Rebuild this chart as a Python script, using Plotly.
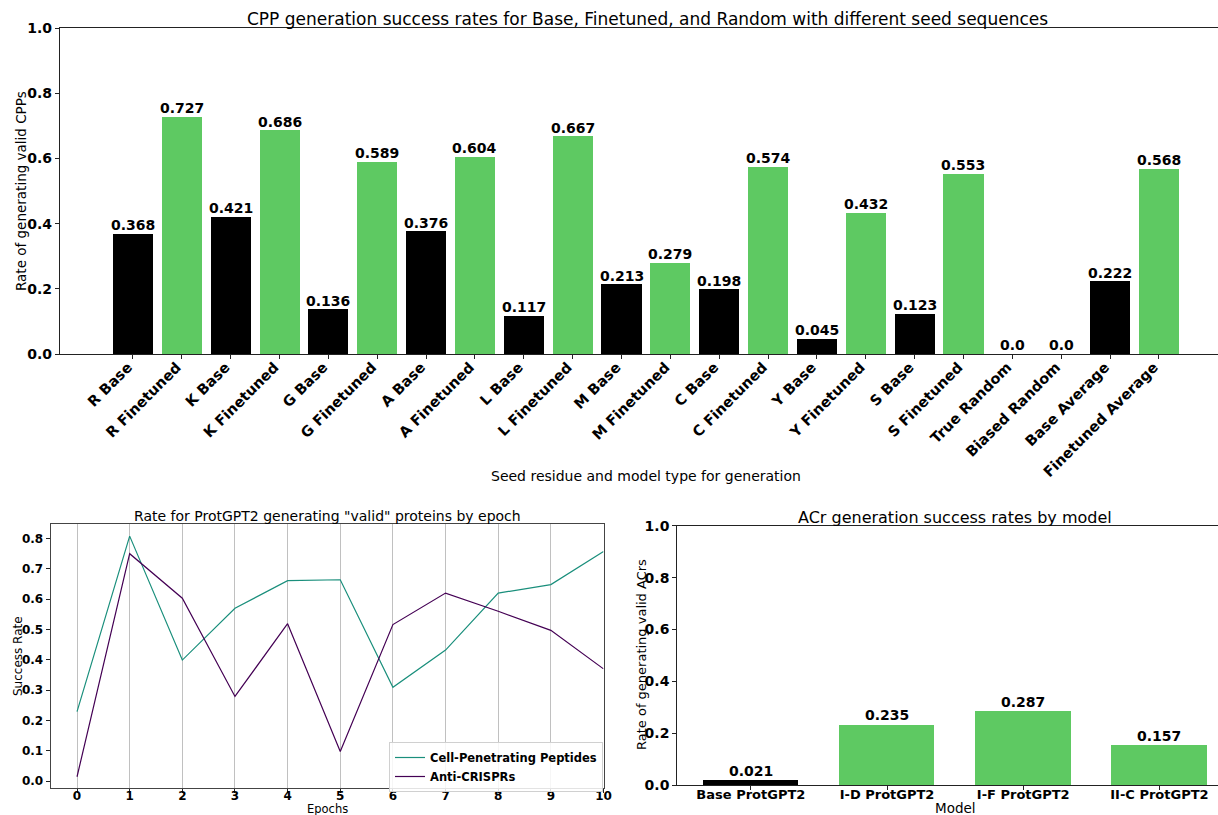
import plotly.graph_objects as go

# ---------------- data ----------------
cpp_categories = ["R Base", "R Finetuned", "K Base", "K Finetuned", "G Base", "G Finetuned",
                  "A Base", "A Finetuned", "L Base", "L Finetuned", "M Base", "M Finetuned",
                  "C Base", "C Finetuned", "Y Base", "Y Finetuned", "S Base", "S Finetuned",
                  "True Random", "Biased Random", "Base Average", "Finetuned Average"]
cpp_values = [0.368, 0.727, 0.421, 0.686, 0.136, 0.589, 0.376, 0.604, 0.117, 0.667,
              0.213, 0.279, 0.198, 0.574, 0.045, 0.432, 0.123, 0.553, 0.0, 0.0, 0.222, 0.568]
cpp_kinds = ["base", "ft", "base", "ft", "base", "ft", "base", "ft", "base", "ft",
             "base", "ft", "base", "ft", "base", "ft", "base", "ft", "base", "base", "base", "ft"]

epochs = [0, 1, 2, 3, 4, 5, 6, 7, 8, 9, 10]
cpp_epoch_rate = [0.229, 0.808, 0.399, 0.570, 0.661, 0.664, 0.309, 0.432, 0.620, 0.648, 0.757]
acr_epoch_rate = [0.014, 0.750, 0.603, 0.279, 0.519, 0.097, 0.516, 0.620, 0.560, 0.497, 0.370]

acr_models = ["Base ProtGPT2", "I-D ProtGPT2", "I-F ProtGPT2", "II-C ProtGPT2"]
acr_values = [0.021, 0.235, 0.287, 0.157]
acr_kinds = ["base", "ft", "ft", "ft"]

# ---------------- styles ----------------
BLACK = "#000000"
GREEN = "#5ec962"
TEAL = "#1a8f7c"
PURPLE = "#440154"
FONT = "DejaVu Sans"
W, H = 1218, 815
color_of = {"base": BLACK, "ft": GREEN}

fig = go.Figure()

# ---- top chart ----
cpp_x = list(range(len(cpp_categories)))
fig.add_trace(go.Bar(x=cpp_x, y=cpp_values, width=0.82,
                     marker=dict(color=[color_of[k] for k in cpp_kinds], line=dict(width=0)),
                     xaxis="x", yaxis="y", showlegend=False, hoverinfo="skip"))

# ---- bottom-left line chart ----
fig.add_trace(go.Scatter(x=epochs, y=cpp_epoch_rate, mode="lines", name="Cell-Penetrating Peptides",
                         line=dict(color=TEAL, width=1.2), xaxis="x2", yaxis="y2"))
fig.add_trace(go.Scatter(x=epochs, y=acr_epoch_rate, mode="lines", name="Anti-CRISPRs",
                         line=dict(color=PURPLE, width=1.2), xaxis="x2", yaxis="y2"))

# ---- bottom-right bars ----
acr_x = list(range(len(acr_models)))
fig.add_trace(go.Bar(x=acr_x, y=acr_values, width=0.7,
                     marker=dict(color=[color_of[k] for k in acr_kinds], line=dict(width=0)),
                     xaxis="x3", yaxis="y3", showlegend=False, hoverinfo="skip"))

def px_x(p):
    return p / W

def px_y(p):
    return (H - p) / H

axis_common = dict(showline=True, linecolor="#222222", linewidth=1.2, ticks="outside",
                   ticklen=4, tickcolor="#222222", zeroline=False, showgrid=False,
                   automargin=False)

fig.update_layout(
    width=W, height=H,
    margin=dict(l=0, r=0, t=0, b=0, autoexpand=False),
    paper_bgcolor="white", plot_bgcolor="white",
    font=dict(family=FONT, color="black"),
    bargap=0,
    xaxis=dict(axis_common, domain=[px_x(60), 1.0], range=[-1.494, 22.21], mirror=True,
               tickmode="array", tickvals=cpp_x, ticktext=cpp_categories, tickangle=-45,
               ticklabelstandoff=-6, ticklabelshift=-5,
               tickfont=dict(family=FONT, size=14.5, weight="bold"), anchor="y"),
    yaxis=dict(axis_common, domain=[px_y(354), px_y(28.3)], range=[0, 1.0], mirror=False,
               tickvals=[0, 0.2, 0.4, 0.6, 0.8, 1.0], tickformat=".1f",
               tickfont=dict(family=FONT, size=14, weight="bold"), anchor="x"),
    xaxis2=dict(axis_common, domain=[px_x(50.7), px_x(603.5)], range=[-0.5, 10], mirror=True,
                tickvals=epochs, showgrid=True, gridcolor="#c0c0c0", gridwidth=1.4,
                linecolor="#444444", ticklabelstandoff=-8,
                tickfont=dict(family=FONT, size=12, weight="bold"), anchor="y2"),
    yaxis2=dict(axis_common, domain=[px_y(788.3), px_y(524.3)], range=[-0.0241, 0.847], mirror=True,
                linecolor="#444444",
                tickvals=[0, 0.1, 0.2, 0.3, 0.4, 0.5, 0.6, 0.7, 0.8], tickformat=".1f",
                tickfont=dict(family=FONT, size=12, weight="bold"), anchor="x2"),
    xaxis3=dict(axis_common, domain=[px_x(677.3), 1.0], range=[-0.54, 3.43], mirror=True,
                tickmode="array", tickvals=acr_x, ticktext=acr_models, ticklabelstandoff=-7,
                tickfont=dict(family=FONT, size=13, weight="bold"), anchor="y3"),
    yaxis3=dict(axis_common, domain=[px_y(785.3), px_y(525.7)], range=[0, 1.0], mirror=False,
                tickvals=[0, 0.2, 0.4, 0.6, 0.8, 1.0], tickformat=".1f",
                tickfont=dict(family=FONT, size=14, weight="bold"), anchor="x3"),
    legend=dict(x=px_x(389), y=px_y(742), xanchor="left", yanchor="top",
                bgcolor="rgba(255,255,255,0.85)", bordercolor="#d0d0d0", borderwidth=1,
                font=dict(family=FONT, size=11.5, weight="bold"), tracegroupgap=0,
                itemwidth=30),
    showlegend=True,
)

annotations = [
    dict(text="CPP generation success rates for Base, Finetuned, and Random with different seed sequences",
         x=px_x(647), y=px_y(19), font=dict(size=17)),
    dict(text="Seed residue and model type for generation", x=px_x(646), y=px_y(476), font=dict(size=14)),
    dict(text="Rate of generating valid CPPs", x=px_x(21), y=px_y(191), textangle=-90, font=dict(size=13.5)),
    dict(text='Rate for ProtGPT2 generating "valid" proteins by epoch', x=px_x(327), y=px_y(516),
         font=dict(size=14)),
    dict(text="Success Rate", x=px_x(18), y=px_y(656), textangle=-90, font=dict(size=12)),
    dict(text="Epochs", x=px_x(327), y=px_y(809), font=dict(size=11.5)),
    dict(text="ACr generation success rates by model", x=px_x(955), y=px_y(517), font=dict(size=16)),
    dict(text="Rate of generating valid ACrs", x=px_x(641), y=px_y(655), textangle=-90, font=dict(size=13)),
    dict(text="Model", x=px_x(955), y=px_y(808), font=dict(size=13.5)),
]
for a in annotations:
    a.update(xref="paper", yref="paper", showarrow=False, xanchor="center", yanchor="middle")
    a["font"].update(family=FONT, color="black")

# value labels above bars, placed in data coordinates
for xi, v in zip(cpp_x, cpp_values):
    annotations.append(dict(x=xi, y=v, xref="x", yref="y", text=f"{v}" if v != 0 else "0.0",
                            showarrow=False, xanchor="center", yanchor="bottom", yshift=-1,
                            font=dict(family=FONT, size=14, color="black", weight="bold")))
for xi, v in zip(acr_x, acr_values):
    annotations.append(dict(x=xi, y=v, xref="x3", yref="y3", text=f"{v:.3f}",
                            showarrow=False, xanchor="center", yanchor="bottom", yshift=-1,
                            font=dict(family=FONT, size=14, color="black", weight="bold")))
fig.update_layout(annotations=annotations)

fig.write_html("out.html", config={"displayModeBar": False},
               post_script="document.body.style.margin='0';document.body.style.overflow='hidden';")
